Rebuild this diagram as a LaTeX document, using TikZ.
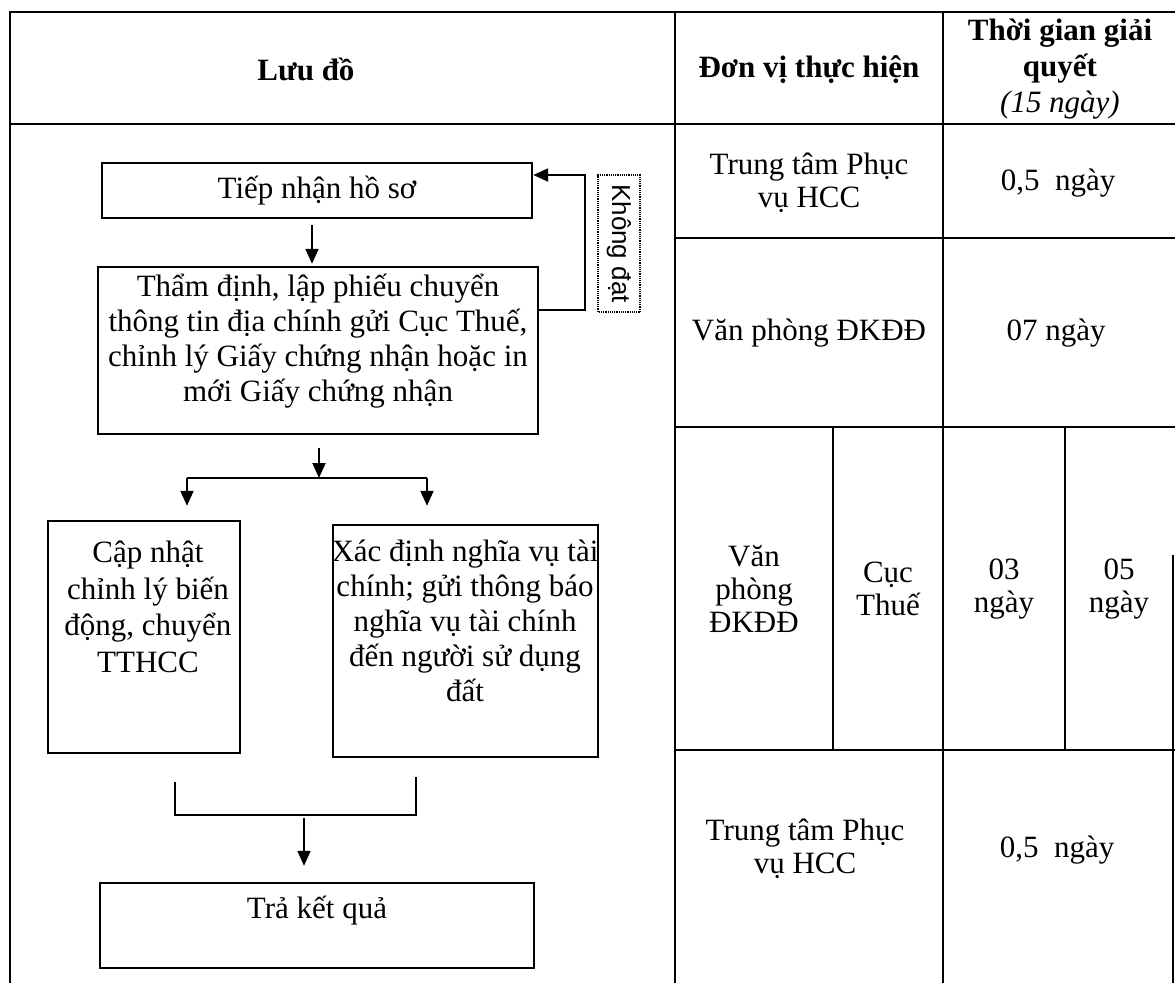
\documentclass[tikz,border=0pt]{standalone}
\usepackage{fontspec}
\setmainfont{Liberation Serif}
\newfontfamily\labelfont{Liberation Sans}
\usepackage{tikz}
\usetikzlibrary{positioning, arrows.meta}
\newcommand{\bodysize}{\fontsize{31}{35}\selectfont}
\newcommand{\cellsize}{\fontsize{31}{33}\selectfont}

\begin{document}
\begin{tikzpicture}[x=1pt, y=-1pt,
    every node/.style={font=\bodysize, inner sep=0pt, align=center},
    box/.style={draw, line width=2.4pt},
    cell/.style={font=\cellsize},
    grid/.style={line width=1.6pt},
    arr/.style={line width=2pt, -{Triangle[length=15pt,width=13pt]}}]
    \useasboundingbox (0,0) rectangle (1175,983);

    % table frame
    \draw[grid] (10,983) -- (10,12) -- (1175,12);
    \draw[grid] (10,124) -- (1175,124);
    \draw[grid] (675,12) -- (675,983);
    \draw[grid] (943,12) -- (943,983);
    \foreach \y in {238,427,750}
        \draw[grid] (675,\y) -- (1175,\y);
    \draw[grid] (833,427) -- (833,750);
    \draw[grid] (1065,427) -- (1065,750);
    \draw[grid] (1173,555) -- (1173,983);

    % header
    \node (luudo) at (306,69) {\textbf{Lưu đồ}};
    \node (donvi) at (809,70) {\textbf{Đơn vị thực hiện}};
    \node[font=\fontsize{31}{36}\selectfont] (thoigian) at (1060,69)
        {\textbf{Thời gian giải}\\\textbf{quyết}\\\textit{(15 ngày)}};

    % right columns
    \node[cell] (r1dv) at (809,183) {Trung tâm Phục\\vụ HCC};
    \node[cell] (r1tg) at (1058,183) {0,5\ \ ngày};
    \node[cell] (r2dv) at (809,333) {Văn phòng ĐKĐĐ};
    \node[cell] (r2tg) at (1056,333) {07 ngày};
    \node[cell] (r3vp) at (754,589) {Văn\\phòng\\ĐKĐĐ};
    \node[cell] (r3ct) at (888,589) {Cục\\Thuế};
    \node[cell] (r3a) at (1004,589) {03\\ngày};
    \node[cell] (r3b) at (1119,589) {05\\ngày};
    \node[cell] (r4dv) at (805,849) {Trung tâm Phục\\vụ HCC};
    \node[cell] (r4tg) at (1057,850) {0,5\ \ ngày};

    % flow chart boxes
    \node[box, minimum width=430pt, minimum height=55pt] (tiepnhan) at (317,190.5) {Tiếp nhận hồ sơ};
    \node[box, minimum width=440pt, minimum height=167pt] (thamdinh) at (318,350.5) {};
    \node (thamdinhT) at (318,341)
        {Thẩm định, lập phiếu chuyển\\thông tin địa chính gửi Cục Thuế,\\chỉnh lý Giấy chứng nhận hoặc in\\mới Giấy chứng nhận};
    \node[box, minimum width=192pt, minimum height=232pt] (capnhat) at (144,637) {};
    \node[font=\fontsize{31}{36.5}\selectfont] (capnhatT) at (148,607)
        {Cập nhật\\chỉnh lý biến\\động, chuyển\\TTHCC};
    \node[box, minimum width=265pt, minimum height=232pt] (xacdinh) at (465.5,641) {};
    \node (xacdinhT) at (465,621)
        {Xác định nghĩa vụ tài\\chính; gửi thông báo\\nghĩa vụ tài chính\\đến người sử dụng\\đất};
    \node[box, minimum width=434pt, minimum height=85pt] (traketqua) at (317,925.5) {};
    \node (traketquaT) at (317,911) {Trả kết quả};

    % loop back label
    \node[draw, densely dotted, line width=1.2pt, rotate=-90, minimum width=137pt, minimum height=42pt,
        font=\labelfont\fontsize{26}{30}\selectfont] (khongdat) at (619,243.5) {Không đạt};

    \coordinate (loop) at (585,175);
    \coordinate (down) at (312,225);
    \coordinate (split) at (319,478);
    \coordinate (splitL) at (187,478);
    \coordinate (splitR) at (427,478);
    \coordinate (mergeL) at (175,815);
    \coordinate (mergeR) at (416,815);
    \coordinate (merge) at (304,815);

    % connectors
    \draw[arr, shorten >=2pt] (down) -- (down |- thamdinh.north);
    \draw[arr] ([yshift=40.5pt]thamdinh.east) -| (loop) -- (loop -| tiepnhan.east);
    \draw[arr, shorten <=13pt] (thamdinh.south -| split) -- (split);
    \draw[line width=2pt] (splitL) -- (splitR);
    \draw[arr, shorten >=14pt] (splitL) -- (splitL |- capnhat.north);
    \draw[arr, shorten >=18pt] (splitR) -- (splitR |- xacdinh.north);
    \draw[line width=2pt] ([yshift=33pt]mergeL) -- (mergeL) -- (mergeR) -- ([yshift=38pt]mergeR);
    \draw[arr, shorten <=3pt, shorten >=16pt] (merge) -- (merge |- traketqua.north);
\end{tikzpicture}
\end{document}
